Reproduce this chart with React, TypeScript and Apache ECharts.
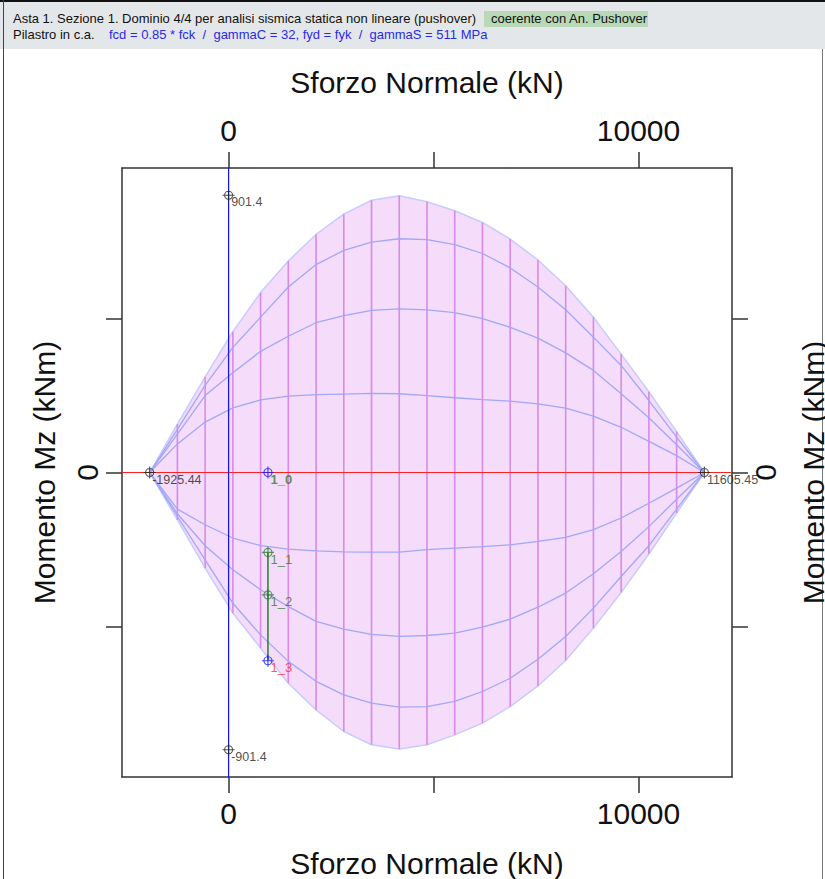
import React, { useEffect, useRef } from "react";
import * as echarts from "echarts";

// ---- Data ----
const N_LEVELS = [
  -1925.44, -1248.9, -572.35, 104.19, 780.74, 1457.28, 2133.83, 2810.37, 3486.92, 4163.46,
  4840.01, 5516.55, 6193.09, 6869.64, 7546.18, 8222.73, 8899.27, 9575.82, 10252.36, 10928.91, 11605.45,
];
const M_UPPER_OUTER = [0, 157, 311, 458, 585, 688, 774, 840, 885, 900, 880, 851, 813, 759, 691, 607, 505, 385, 263, 133, 0];
const M_UPPER_2 = [0, 140, 283, 407, 505, 603, 676, 722, 749, 760, 757, 741, 712, 665, 603, 529, 440, 348, 234, 115, 0];
const M_UPPER_3 = [0, 125, 250, 324, 394, 443, 487, 510, 527, 532, 529, 520, 500, 472, 437, 389, 332, 256, 178, 90, 0];
const M_UPPER_4 = [0, 93, 164, 210, 236, 248, 253, 255, 257, 256, 250, 243, 237, 232, 223, 209, 183, 147, 101, 55, 0];
const M_LOWER_OUTER = [0, -154, -311, -457, -571, -685, -772, -842, -885, -899, -885, -853, -815, -761, -694, -611, -506, -390, -265, -132, 0];
const M_LOWER_2 = [0, -143, -284, -425, -528, -614, -679, -723, -750, -763, -761, -744, -712, -669, -607, -533, -441, -338, -238, -119, 0];
const M_LOWER_3 = [0, -134, -238, -316, -381, -436, -484, -509, -526, -533, -530, -522, -503, -477, -438, -392, -329, -257, -176, -87, 0];
const M_LOWER_4 = [0, -119, -170, -213, -238, -249, -255, -258, -259, -259, -251, -246, -241, -235, -224, -211, -186, -148, -100, -51, 0];

const KEY_LABELS = ["-1925.44", "11605.45", "901.4", "-901.4"];
const KEY_N = [-1925.44, 11605.45, 0, 0];
const KEY_M = [0, 0, 901.4, -901.4];

const STATE_LABELS = ["1_0", "1_1", "1_2", "1_3"];
const STATE_N = [960, 960, 960, 960];
const STATE_M = [0, -260, -398, -612];

const X_TICKS = [0, 5000, 10000];
const X_TICK_LABELS = [0, 10000];
const Y_TICKS = [-500, 0, 500];
const Y_TICK_LABELS = [0];

const X_TITLE = "Sforzo Normale (kN)";
const Y_TITLE = "Momento Mz (kNm)";
const HEADER_1 = "Asta 1. Sezione 1. Dominio 4/4 per analisi sismica statica non lineare (pushover)";
const HEADER_BADGE = "coerente con An. Pushover";
const HEADER_2A = "Pilastro in c.a.";
const HEADER_2B = "fcd = 0.85 * fck  /  gammaC = 32, fyd = fyk  /  gammaS = 511 MPa";

// ---- Axis ranges ----
const X_MIN = -2600;
const X_MAX = 12280;
const Y_MIN = -990;
const Y_MAX = 990;

// ---- Styling ----
const FONT = "'Liberation Sans', Arial, Helvetica, sans-serif";
const AXIS_COLOR = "#333";
const TEXT_COLOR = "#111";
const CROSS = "path://M0,6L12,6M6,0L6,12M10,6A4,4,0,1,1,2,6A4,4,0,1,1,10,6";

const zip = (xs: number[], ys: number[]) => xs.map((x, i) => [x, ys[i]]);

function xAxisCfg(position: "top" | "bottom") {
  return {
    type: "value",
    position,
    min: X_MIN,
    max: X_MAX,
    name: X_TITLE,
    nameLocation: "middle",
    nameGap: 71,
    nameTextStyle: { fontSize: 30, color: TEXT_COLOR, fontFamily: FONT },
    axisLine: { show: true, onZero: false, lineStyle: { color: AXIS_COLOR, width: 1.5 } },
    axisTick: { show: true, inside: false, length: 16, customValues: X_TICKS, lineStyle: { color: AXIS_COLOR, width: 1.5 } },
    axisLabel: {
      show: true,
      customValues: X_TICK_LABELS,
      formatter: (v: number) => String(v),
      fontSize: 30,
      color: TEXT_COLOR,
      margin: position === "top" ? 23 : 21,
      fontFamily: FONT,
    },
    splitLine: { show: false },
  };
}

function yAxisCfg(position: "left" | "right") {
  return {
    type: "value",
    position,
    min: Y_MIN,
    max: Y_MAX,
    name: Y_TITLE,
    nameLocation: "middle",
    nameGap: position === "left" ? 63 : 66,
    nameTextStyle: { fontSize: 30, color: TEXT_COLOR, fontFamily: FONT },
    axisLine: { show: true, onZero: false, lineStyle: { color: AXIS_COLOR, width: 1.5 } },
    axisTick: { show: true, inside: false, length: 16, customValues: Y_TICKS, lineStyle: { color: AXIS_COLOR, width: 1.5 } },
    axisLabel: {
      show: true,
      customValues: Y_TICK_LABELS,
      formatter: (v: number) => String(v),
      rotate: 90,
      fontSize: 30,
      color: TEXT_COLOR,
      margin: position === "left" ? 20 : 18,
      fontFamily: FONT,
    },
    splitLine: { show: false },
  };
}

const innerCurve = (m: number[]) => ({
  type: "line",
  data: zip(N_LEVELS, m),
  symbol: "none",
  silent: true,
  z: 4,
  lineStyle: { color: "#a2a7f7", width: 1.3 },
});

export default function App() {
  const ref = useRef<HTMLDivElement>(null);

  useEffect(() => {
    if (!ref.current) return;
    const chart = echarts.init(ref.current, undefined, { renderer: "svg" });

    const verticalData = N_LEVELS.map((n, i) => [n, M_LOWER_OUTER[i], M_UPPER_OUTER[i]]).slice(1, -1);

    const option: any = {
      animation: false,
      backgroundColor: "#ffffff",
      textStyle: { fontFamily: FONT },
      grid: { left: 122, top: 168, width: 610, height: 609, show: false, containLabel: false, outerBoundsMode: "none" },
      xAxis: [xAxisCfg("bottom"), xAxisCfg("top")],
      yAxis: [yAxisCfg("left"), yAxisCfg("right")],
      graphic: [
        { type: "rect", shape: { x: 0, y: 0, width: 825, height: 49 }, style: { fill: "#e4e7ea" }, silent: true },
        { type: "line", shape: { x1: 0, y1: 1, x2: 825, y2: 1 }, style: { stroke: "#111", lineWidth: 2 }, silent: true },
        { type: "line", shape: { x1: 3.5, y1: 0, x2: 3.5, y2: 879 }, style: { stroke: "#444", lineWidth: 1 }, silent: true },
        { type: "line", shape: { x1: 822.5, y1: 49, x2: 822.5, y2: 879 }, style: { stroke: "#777", lineWidth: 1 }, silent: true },
        { type: "text", x: 13, y: 18, style: { text: HEADER_1, fontSize: 13, fontFamily: FONT, fill: "#111", verticalAlign: "middle" } },
        { type: "rect", shape: { x: 484, y: 11, width: 164, height: 16 }, style: { fill: "#b8d8b6" }, silent: true },
        { type: "text", x: 491, y: 18, style: { text: HEADER_BADGE, fontSize: 13, fontFamily: FONT, fill: "#111", verticalAlign: "middle" } },
        { type: "text", x: 13, y: 34, style: { text: HEADER_2A, fontSize: 13, fontFamily: FONT, fill: "#111", verticalAlign: "middle" } },
        { type: "text", x: 109, y: 34, style: { text: HEADER_2B, fontSize: 13, fontFamily: FONT, fill: "#2a2ae6", verticalAlign: "middle" } },
      ],
      series: [
        {
          type: "line",
          data: zip(N_LEVELS, M_UPPER_OUTER),
          symbol: "none",
          silent: true,
          z: 2,
          lineStyle: { color: "#c8cbff", width: 1.5 },
          areaStyle: { color: "#f4dcfa", opacity: 1, origin: "auto" },
        },
        {
          type: "line",
          data: zip(N_LEVELS, M_LOWER_OUTER),
          symbol: "none",
          silent: true,
          z: 2,
          lineStyle: { color: "#c8cbff", width: 1.5 },
          areaStyle: { color: "#f4dcfa", opacity: 1, origin: "auto" },
        },
        {
          type: "custom",
          data: verticalData,
          silent: true,
          z: 3,
          encode: { x: 0, y: [1, 2] },
          renderItem: (_params: any, api: any) => {
            const p1 = api.coord([api.value(0), api.value(1)]);
            const p2 = api.coord([api.value(0), api.value(2)]);
            return {
              type: "line",
              shape: { x1: p1[0], y1: p1[1], x2: p2[0], y2: p2[1] },
              style: { stroke: "#d88ae9", lineWidth: 1.6 },
            };
          },
        },
        innerCurve(M_UPPER_2),
        innerCurve(M_UPPER_3),
        innerCurve(M_UPPER_4),
        innerCurve(M_LOWER_2),
        innerCurve(M_LOWER_3),
        innerCurve(M_LOWER_4),
        {
          type: "line",
          data: [[X_MIN, 0], [X_MAX, 0]],
          symbol: "none",
          silent: true,
          z: 5,
          lineStyle: { color: "#ff2020", width: 1.2 },
        },
        {
          type: "line",
          data: [[0, Y_MIN], [0, Y_MAX]],
          symbol: "none",
          silent: true,
          z: 5,
          lineStyle: { color: "#1010ff", width: 1.2 },
        },
        {
          type: "line",
          data: zip(STATE_N.slice(1), STATE_M.slice(1)),
          symbol: "none",
          silent: true,
          z: 6,
          lineStyle: { color: "#2b7d2b", width: 1.5 },
        },
        {
          type: "scatter",
          z: 8,
          silent: true,
          symbol: CROSS,
          symbolSize: 12,
          itemStyle: { color: "rgba(0,0,0,0)", borderColor: "#222", borderWidth: 1.1 },
          label: {
            show: true,
            position: "right",
            distance: 5,
            offset: [-9, 7],
            formatter: "{b}",
            fontSize: 12.5,
            color: "#222",
            fontFamily: FONT,
          },
          data: KEY_LABELS.map((name, i) => ({ name, value: [KEY_N[i], KEY_M[i]] })),
        },
        {
          type: "scatter",
          z: 9,
          silent: true,
          symbol: CROSS,
          symbolSize: 12,
          label: {
            show: true,
            position: "right",
            distance: 5,
            offset: [-9, 7],
            formatter: "{b}",
            fontSize: 13,
            fontFamily: FONT,
          },
          data: STATE_LABELS.map((name, i) => {
            const isBlue = i === 0 || i === 3;
            const labelColor = i === 3 ? "#ff2a2a" : "#2e7d2e";
            return {
              name,
              value: [STATE_N[i], STATE_M[i]],
              itemStyle: { color: "rgba(0,0,0,0)", borderColor: isBlue ? "#1a1aff" : "#2e7d2e", borderWidth: 1.2 },
              label: { color: labelColor, fontWeight: i === 0 ? "bold" : "normal" },
            };
          }),
        },
      ],
    };

    chart.setOption(option);
    return () => chart.dispose();
  }, []);

  return (
    <div
      ref={ref}
      style={{ position: "absolute", left: 0, top: 0, width: 825, height: 879, background: "#fff" }}
    />
  );
}
